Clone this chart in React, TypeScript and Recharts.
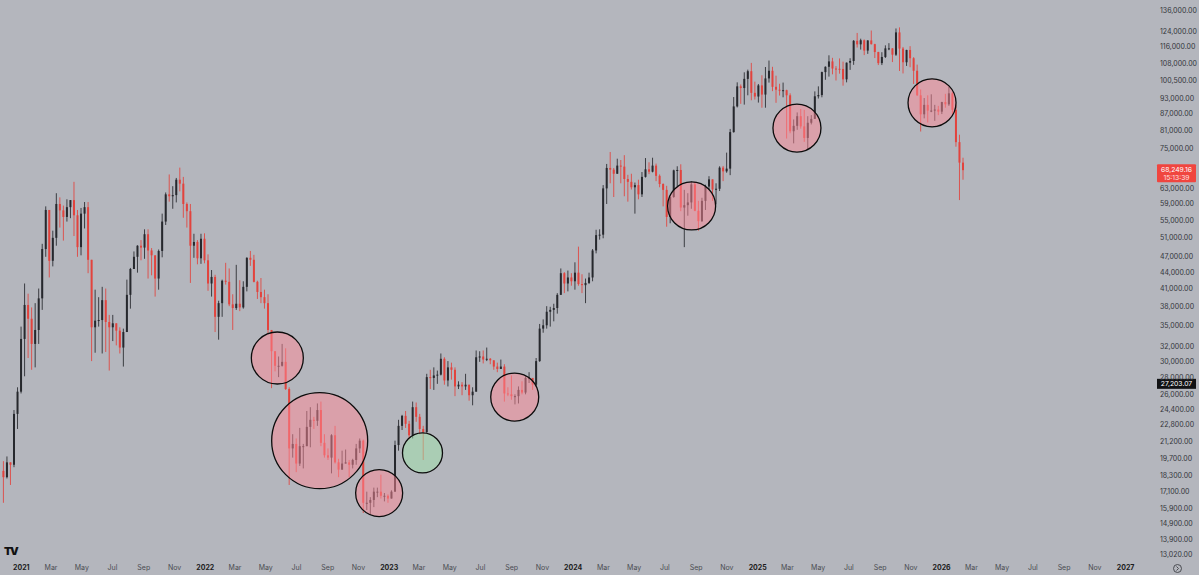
import React from 'react';
import { ComposedChart, Bar, XAxis, YAxis, ReferenceDot, ReferenceLine } from 'recharts';

// weekly candles, [high, low, close] in thousands of USD; open = previous close
const firstOpen = 18.7;

const weeks2020: number[][] = [
  [19.5, 16.3, 18.2], [19.9, 18.1, 19.4], [19.4, 17.6, 19.2], [24.3, 19.0, 23.9], [26.8, 22.4, 26.3],
  [34.8, 26.1, 33.0],
];

const weeks2021: number[][] = [
  [41.9, 28.1, 38.2], [40.1, 30.4, 36.0], [37.8, 28.9, 32.3], [38.5, 29.2, 34.3], [41.0, 32.3, 39.3],
  [49.7, 37.4, 48.6], [58.4, 47.0, 57.5], [57.5, 43.0, 46.2], [52.6, 45.1, 51.0], [61.8, 49.3, 59.0],
  [60.7, 53.3, 57.4], [58.6, 50.4, 55.8], [60.2, 54.7, 58.2], [60.0, 55.5, 60.0], [64.9, 51.4, 56.2],
  [57.5, 47.0, 49.0], [58.0, 47.3, 56.6], [59.5, 53.1, 58.2], [59.5, 43.8, 46.4], [45.8, 30.0, 34.7],
  [40.8, 31.1, 35.7], [39.5, 34.8, 35.8], [41.3, 31.0, 39.0], [41.0, 31.2, 35.5], [36.6, 28.8, 34.7],
  [36.6, 32.7, 35.3], [35.1, 32.1, 34.2], [34.7, 31.0, 31.8], [34.5, 29.3, 34.0], [42.6, 34.0, 39.9],
  [44.8, 37.6, 44.6], [48.1, 44.6, 47.0], [49.4, 43.9, 49.3], [50.5, 46.3, 48.9], [52.9, 46.6, 51.8],
  [52.9, 42.8, 48.3], [48.8, 43.4, 47.3], [47.3, 39.6, 42.8], [48.5, 40.8, 48.2], [56.6, 46.9, 54.7],
  [62.0, 53.9, 61.5], [67.0, 59.6, 61.0], [63.7, 57.8, 61.3], [66.0, 59.4, 65.5], [69.0, 62.3, 64.4],
  [66.3, 55.6, 59.0], [59.4, 53.3, 57.2], [59.0, 42.0, 49.3], [51.9, 46.8, 50.1], [50.5, 45.5, 46.7],
  [51.9, 45.6, 50.8], [52.0, 45.7, 46.3],
];

const weeks2022: number[][] = [
  [47.5, 40.6, 41.9], [44.4, 39.6, 43.1], [43.5, 34.0, 36.3], [38.9, 32.9, 38.5], [42.6, 36.3, 42.4],
  [45.8, 41.7, 42.2], [44.7, 38.0, 38.3], [40.0, 34.3, 37.7], [45.4, 37.4, 38.4], [42.5, 37.2, 37.8],
  [42.3, 37.6, 41.3], [46.9, 40.5, 46.8], [48.2, 45.2, 46.4], [47.4, 42.1, 42.2], [42.4, 39.2, 40.4],
  [42.9, 38.5, 39.5], [40.8, 37.6, 38.5], [40.0, 33.7, 34.3], [34.3, 26.7, 31.3], [31.3, 28.7, 29.4],
  [30.6, 28.0, 29.4], [32.3, 29.3, 29.9], [31.7, 26.5, 26.6], [26.8, 17.6, 20.6], [21.9, 19.8, 21.0],
  [21.5, 18.6, 19.3], [22.5, 19.1, 20.8], [21.0, 18.9, 20.8], [24.2, 20.8, 22.6], [24.6, 20.7, 23.3],
  [23.6, 22.4, 23.2], [25.0, 22.7, 24.3], [25.2, 20.8, 21.1], [21.9, 19.8, 20.0], [20.6, 19.6, 19.8],
  [21.9, 18.5, 21.8], [22.7, 19.3, 19.4], [19.7, 18.2, 18.8], [20.4, 18.9, 19.3], [20.5, 19.3, 19.4],
  [19.6, 18.2, 19.2], [19.7, 18.9, 19.6], [21.0, 19.2, 20.6], [21.5, 20.2, 21.3], [21.4, 15.6, 16.3],
  [17.1, 15.8, 16.3], [16.7, 15.5, 16.5], [17.4, 16.0, 17.1], [17.4, 16.7, 17.1], [18.4, 16.6, 16.8],
  [17.0, 16.4, 16.8], [16.9, 16.3, 16.6],
];

const weeks2023: number[][] = [
  [17.2, 16.6, 17.1], [21.3, 17.1, 20.9], [23.3, 20.4, 22.7], [23.8, 22.3, 23.7], [24.2, 22.5, 22.9],
  [23.2, 21.4, 21.8], [25.2, 21.5, 24.6], [25.1, 23.1, 23.6], [23.9, 21.9, 22.4], [22.7, 19.6, 22.1],
  [28.4, 22.0, 28.0], [28.9, 26.6, 27.9], [29.2, 26.5, 28.2], [28.8, 27.2, 28.3], [31.0, 28.2, 30.3],
  [30.5, 27.1, 27.6], [30.0, 26.9, 29.2], [29.8, 27.7, 28.9], [29.2, 25.8, 26.9], [27.5, 26.6, 27.1],
  [27.4, 25.9, 26.9], [28.4, 26.5, 27.1], [27.1, 25.3, 25.9], [26.8, 24.8, 26.3], [31.4, 26.3, 30.5],
  [31.3, 29.9, 30.6], [31.4, 29.7, 30.2], [31.8, 30.0, 30.3], [30.4, 29.6, 30.1], [30.1, 28.9, 29.3],
  [29.8, 28.6, 29.0], [30.2, 29.1, 29.3], [29.6, 25.2, 26.1], [26.8, 25.8, 26.0], [28.2, 25.4, 25.8],
  [26.0, 24.9, 25.8], [26.9, 25.0, 26.5], [27.5, 26.0, 26.2], [28.1, 26.0, 27.9], [28.6, 27.3, 27.9],
  [27.9, 26.5, 27.1], [30.4, 26.9, 30.0], [35.2, 29.9, 34.5], [35.9, 33.9, 35.0], [38.0, 34.5, 37.1],
  [37.9, 34.8, 37.4], [38.4, 35.6, 37.7], [40.2, 36.8, 39.9], [44.7, 39.9, 43.8], [44.0, 40.2, 41.9],
  [44.3, 40.5, 43.0], [43.8, 41.5, 42.3],
];

const weeks2024: number[][] = [
  [45.9, 40.8, 43.9], [49.1, 41.5, 41.8], [43.6, 40.2, 41.6], [42.8, 38.5, 42.0], [43.9, 41.8, 43.0],
  [48.6, 42.3, 48.3], [52.8, 47.7, 51.6], [52.9, 50.6, 51.7], [64.0, 50.9, 63.1], [70.1, 59.0, 68.9],
  [73.8, 64.5, 68.4], [68.9, 60.8, 67.2], [71.7, 67.6, 69.6], [71.3, 64.5, 69.3], [72.8, 61.0, 65.7],
  [66.9, 59.6, 64.9], [67.2, 62.8, 63.4], [64.7, 56.6, 64.0], [65.5, 60.2, 61.5], [67.7, 60.8, 66.3],
  [71.9, 66.1, 68.5], [70.6, 67.1, 67.8], [72.0, 67.6, 69.6], [70.2, 65.1, 66.6], [67.0, 63.4, 64.3],
  [64.5, 58.4, 62.7], [63.8, 53.5, 55.8], [61.0, 54.3, 60.8], [68.4, 60.6, 68.2], [69.4, 63.4, 68.3],
  [70.0, 57.2, 58.1], [62.7, 49.0, 58.7], [61.8, 56.1, 59.4], [65.0, 57.8, 64.2], [64.9, 57.2, 57.3],
  [59.8, 52.6, 54.8], [60.6, 54.6, 59.8], [64.1, 57.5, 63.6], [66.5, 62.7, 65.6], [65.0, 59.8, 62.8],
  [64.5, 58.9, 63.0], [69.4, 62.4, 69.0], [69.5, 65.1, 67.9], [73.6, 67.5, 68.7], [81.5, 66.8, 80.4],
  [93.5, 80.2, 89.8], [99.6, 89.4, 97.9], [98.7, 90.8, 97.2], [104.0, 90.5, 101.1], [105.2, 94.2, 104.5],
  [108.3, 92.2, 95.2], [99.9, 92.5, 93.7], [98.9, 91.3, 98.3],
];

const weeks2025: number[][] = [
  [102.7, 89.3, 94.5], [106.4, 89.3, 101.3], [109.4, 99.5, 104.7], [106.5, 95.9, 97.7], [102.5, 91.2, 96.5],
  [99.0, 94.1, 96.1], [99.5, 93.4, 96.3], [96.5, 78.2, 94.2], [95.0, 80.0, 80.7], [84.9, 76.6, 82.6],
  [87.5, 81.2, 86.1], [88.8, 81.6, 82.4], [88.5, 77.1, 78.4], [86.1, 74.4, 83.7], [86.5, 83.1, 85.1],
  [95.8, 85.1, 93.8], [97.9, 92.9, 94.3], [104.3, 93.4, 104.1], [106.7, 100.7, 106.5], [111.9, 102.1, 109.0],
  [110.7, 103.1, 105.7], [106.8, 100.4, 105.6], [110.4, 103.4, 105.5], [108.9, 98.2, 100.9], [108.5, 99.6, 108.4],
  [110.5, 105.1, 109.2], [119.5, 107.4, 119.1], [123.2, 115.7, 117.3], [120.2, 114.7, 119.4], [119.8, 112.0, 114.2],
  [119.4, 112.6, 119.3], [124.5, 117.2, 117.4], [117.6, 110.6, 113.5], [113.6, 107.3, 108.2], [113.4, 107.3, 111.1],
  [116.8, 110.6, 115.3], [117.9, 114.4, 115.3], [115.4, 108.7, 112.2], [125.6, 111.6, 123.5], [126.2, 104.6, 115.2],
  [116.0, 103.5, 108.6], [114.6, 106.9, 114.5], [116.4, 106.3, 110.5], [111.0, 98.9, 104.7], [107.5, 94.0, 94.2],
  [96.6, 80.6, 86.8], [93.1, 85.3, 90.4], [94.2, 83.8, 88.2], [94.6, 87.6, 88.2], [90.4, 84.4, 88.6],
  [90.0, 86.5, 87.8], [91.6, 86.9, 91.5],
];

const weeks2026: number[][] = [
  [94.8, 89.3, 90.6], [97.9, 90.0, 95.0], [95.5, 87.0, 88.5], [90.5, 75.5, 77.0], [79.5, 60.0, 70.5],
  [72.0, 65.5, 68.25],
];

const yearBlocks = [
  { start: '2020-11-23', weeks: weeks2020 },
  { start: '2021-01-04', weeks: weeks2021 },
  { start: '2022-01-03', weeks: weeks2022 },
  { start: '2023-01-02', weeks: weeks2023 },
  { start: '2024-01-01', weeks: weeks2024 },
  { start: '2025-01-06', weeks: weeks2025 },
  { start: '2026-01-05', weeks: weeks2026 },
];

// highlighted zones: date, price, radius (px)
const circleDates = ['2022-05-24', '2022-08-16', '2022-12-12', '2023-03-08', '2023-09-07', '2024-08-23', '2025-03-20', '2025-12-13'];
const circlePrices = [30400, 21300, 17000, 20200, 25700, 58500, 81800, 91200];
const circleRadii = [26, 48, 23.5, 20, 24, 24, 24, 24];
const circleKinds = ['red', 'red', 'red', 'green', 'red', 'red', 'red', 'red'];

const yTicks = [
  13020, 13900, 14900, 15900, 17100, 18300, 19700, 21200, 22800, 24400, 26000, 28000, 30000, 32000,
  35000, 38000, 41000, 44000, 47000, 51000, 55000, 59000, 63000, 75000, 81000, 87000, 93000, 100500,
  108000, 116000, 124000, 136000,
];

const monthTicks = [
  '2021-01-01', '2021-03-01', '2021-05-01', '2021-07-01', '2021-09-01', '2021-11-01',
  '2022-01-01', '2022-03-01', '2022-05-01', '2022-07-01', '2022-09-01', '2022-11-01',
  '2023-01-01', '2023-03-01', '2023-05-01', '2023-07-01', '2023-09-01', '2023-11-01',
  '2024-01-01', '2024-03-01', '2024-05-01', '2024-07-01', '2024-09-01', '2024-11-01',
  '2025-01-01', '2025-03-01', '2025-05-01', '2025-07-01', '2025-09-01', '2025-11-01',
  '2026-01-01', '2026-03-01', '2026-05-01', '2026-07-01', '2026-09-01', '2026-11-01',
  '2027-01-01',
];
const monthNames = ['Jan', 'Feb', 'Mar', 'Apr', 'May', 'Jun', 'Jul', 'Aug', 'Sep', 'Oct', 'Nov', 'Dec'];

const lastPrice = 68249.16;
const lastCountdown = '15:13:39';
const markedPrice = 27203.07;

const BG = '#b4b6bd';
const UP = '#26282d';
const DOWN = '#e2433d';
const FONT = 'Inter, "Noto Sans", sans-serif';

const dayOf = (iso: string) => (Date.parse(iso) - Date.parse('2021-01-01')) / 86400000;

const candles: any[] = [];
let prevClose = firstOpen * 1000;
yearBlocks.forEach((block) => {
  block.weeks.forEach(([h, l, c], j) => {
    const high = h * 1000;
    const low = l * 1000;
    const close = c * 1000;
    const open = prevClose;
    candles.push({
      t: dayOf(block.start) + j * 7 + 3,
      open,
      close,
      high: Math.max(high, open, close),
      low: Math.min(low, open, close),
      range: [Math.min(low, open, close), Math.max(high, open, close)],
    });
    prevClose = close;
  });
});

const xTickDays = monthTicks.map(dayOf);
const xTickLabel = new Map(
  monthTicks.map((m) => {
    const [y, mo] = m.split('-');
    return [dayOf(m), mo === '01' ? { text: y, year: true } : { text: monthNames[Number(mo) - 1], year: false }];
  }),
);

const Candle = (props: any) => {
  const { x, y, width, height, payload } = props;
  if (payload == null || height == null || isNaN(y)) return null;
  const top = Math.min(y, y + height);
  const h = Math.abs(height);
  const { open, close, high, low } = payload;
  const span = Math.log(high) - Math.log(low);
  const at = (v: number) => top + (span > 0 ? ((Math.log(high) - Math.log(v)) / span) * h : 0);
  const color = close >= open ? UP : DOWN;
  const cx = x + width / 2;
  const bodyTop = at(Math.max(open, close));
  const bodyH = Math.max(1, at(Math.min(open, close)) - bodyTop);
  return (
    <g>
      <line x1={cx} x2={cx} y1={top} y2={top + h} stroke={color} strokeWidth={1} strokeOpacity={0.85} />
      <rect x={x} y={bodyTop} width={width} height={bodyH} fill={color} />
    </g>
  );
};

const XTick = (props: any) => {
  const { x, payload } = props;
  const lab = xTickLabel.get(payload.value);
  if (!lab) return null;
  return (
    <text x={x} y={570} textAnchor="middle" fontSize={7} fontFamily={FONT} fontWeight={lab.year ? 700 : 400} fill={lab.year ? '#1c1c1c' : '#4a4c52'}>
      {lab.text}
    </text>
  );
};

const YTick = (props: any) => {
  const { y, payload } = props;
  return (
    <text x={1160} y={y + 2.5} textAnchor="start" fontSize={7} fontFamily={FONT} fill="#33353a">
      {payload.value.toLocaleString('en-US', { minimumFractionDigits: 2, maximumFractionDigits: 2 })}
    </text>
  );
};

const fmt = (v: number) => v.toLocaleString('en-US', { minimumFractionDigits: 2, maximumFractionDigits: 2 });

const LastTag = (p: any) => {
  const y = p.viewBox?.y ?? 0;
  return (
    <g>
      <rect x={1157} y={y - 6} width={39} height={18} fill="#f0453f" rx={1} />
      <text x={1176.5} y={y + 2} textAnchor="middle" fontSize={6.8} fontFamily={FONT} fill="#ffffff">{fmt(lastPrice)}</text>
      <text x={1176.5} y={y + 9.5} textAnchor="middle" fontSize={6.8} fontFamily={FONT} fill="#ffe0e0">{lastCountdown}</text>
    </g>
  );
};

const MarkTag = (p: any) => {
  const y = p.viewBox?.y ?? 0;
  return (
    <g>
      <rect x={1157} y={y - 5} width={39} height={10} fill="#111214" />
      <text x={1176.5} y={y + 2.5} textAnchor="middle" fontSize={6.8} fontFamily={FONT} fill="#ffffff">{fmt(markedPrice)}</text>
    </g>
  );
};

export default function App() {
  return (
    <div style={{ width: 1199, height: 575, background: BG, position: 'relative', overflow: 'hidden' }}>
      <style>{'body{margin:0;}'}</style>
      <ComposedChart width={1199} height={575} data={candles} margin={{ top: 0, right: 0, bottom: 0, left: 0 }}>
        <XAxis
          dataKey="t"
          type="number"
          domain={[-42.3, 2239.5]}
          allowDataOverflow
          ticks={xTickDays}
          interval={0}
          tick={<XTick />}
          tickLine={false}
          axisLine={false}
          height={15}
        />
        <YAxis
          orientation="right"
          scale="log"
          domain={[12742, 141983]}
          allowDataOverflow
          ticks={yTicks}
          interval={0}
          tick={<YTick />}
          tickLine={false}
          axisLine={false}
          width={49}
        />
        <Bar dataKey="range" barSize={2} shape={<Candle />} isAnimationActive={false} />
        {circleDates.map((d, i) => (
          <ReferenceDot
            key={d}
            x={dayOf(d)}
            y={circlePrices[i]}
            r={circleRadii[i]}
            fill={circleKinds[i] === 'green' ? '#9fe4ab' : '#ff8a97'}
            fillOpacity={0.5}
            stroke="#0c0c0c"
            strokeWidth={1.3}
          />
        ))}
        <ReferenceLine y={lastPrice} stroke="none" label={(p: any) => <LastTag {...p} />} />
        <ReferenceLine y={markedPrice} stroke="none" label={(p: any) => <MarkTag {...p} />} />
      </ComposedChart>
      <div style={{ position: 'absolute', left: 4, top: 544, fontFamily: FONT, fontWeight: 900, fontSize: 11, letterSpacing: -1.5, color: '#111' }}>TV</div>
      <svg style={{ position: 'absolute', left: 1172, top: 563 }} width={11} height={11}>
        <circle cx={5.5} cy={5.5} r={4} fill="none" stroke="#4a4c52" strokeWidth={1} />
        <path d="M4.5 3.5 L6.5 5.5 L4.5 7.5" fill="none" stroke="#4a4c52" strokeWidth={1} />
      </svg>
    </div>
  );
}
